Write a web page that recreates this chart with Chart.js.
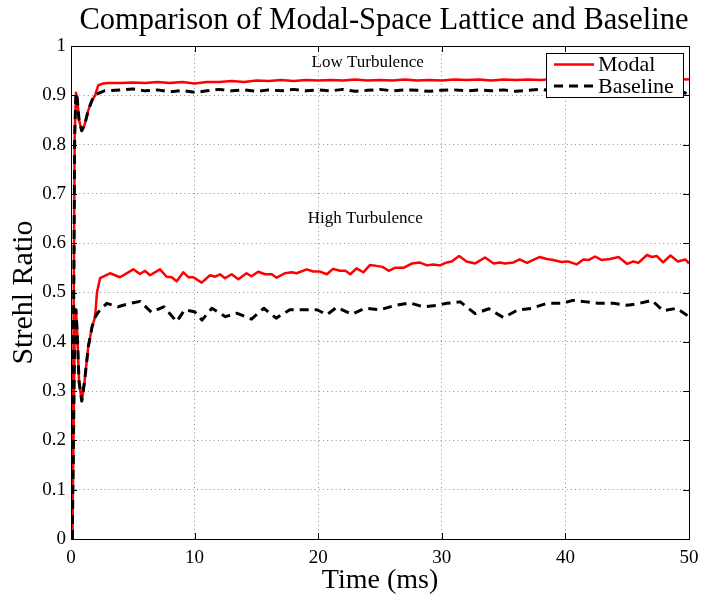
<!DOCTYPE html>
<html><head><meta charset="utf-8">
<script src="https://cdn.jsdelivr.net/npm/chart.js@4.4.1/dist/chart.umd.min.js"></script>
<style>html,body{margin:0;padding:0;background:#fff}#wrap{width:702px;height:600px}</style>
</head><body><div id="wrap"><canvas id="c" width="702" height="600"></canvas></div>
<script>
// ---------- text ----------
const titleText = "Comparison of Modal-Space Lattice and Baseline";
const xTitle = "Time (ms)";
const yTitle = "Strehl Ratio";
const seriesNames = ["Modal", "Baseline"];
const xTickValues = [0, 10, 20, 30, 40, 50];
const yTickValues = [0, 0.1, 0.2, 0.3, 0.4, 0.5, 0.6, 0.7, 0.8, 0.9, 1];
const noteLabels = ["Low Turbulence", "High Turbulence"];
const noteTimes = [24.0, 23.8];
const noteValues = [0.966, 0.650];

// ---------- start-up transient (shared by both methods) ----------
const lowStartT  = [0.1, 0.2, 0.3, 0.4, 0.5, 0.65, 0.87, 1.1, 1.4, 1.7, 1.95];
const lowStartV  = [0.0, 0.40, 0.82, 0.905, 0.895, 0.85, 0.828, 0.84, 0.87, 0.89, 0.90];
const highStartT = [0.1, 0.2, 0.3, 0.4, 0.5, 0.65, 0.87, 1.1, 1.4, 1.7, 1.95];
const highStartV = [0.0, 0.20, 0.42, 0.465, 0.42, 0.32, 0.28, 0.32, 0.39, 0.43, 0.45];

// ---------- low turbulence ----------
const lowModalT = [2.2, 2.6, 3, 4, 5, 6, 7, 8, 9, 10, 11, 12, 13, 14, 15, 16, 17, 18, 19, 20, 21, 22, 23, 24, 25, 26, 27, 28, 29, 30, 31, 32, 33, 34, 35, 36, 37, 38, 39, 40, 41, 42, 43, 44, 45, 46, 47, 48, 49, 50];
const lowModalV = [0.920, 0.924, 0.925, 0.925, 0.926, 0.925, 0.927, 0.925, 0.927, 0.924, 0.927, 0.927, 0.929, 0.927, 0.930, 0.929, 0.931, 0.929, 0.931, 0.930, 0.931, 0.930, 0.932, 0.930, 0.931, 0.930, 0.932, 0.930, 0.931, 0.930, 0.932, 0.931, 0.932, 0.930, 0.932, 0.931, 0.932, 0.931, 0.933, 0.931, 0.933, 0.931, 0.933, 0.932, 0.933, 0.931, 0.933, 0.931, 0.933, 0.932];
const lowBaseT = [2.3, 2.7, 3, 4, 5, 6, 7, 8, 9, 10, 11, 12, 13, 14, 15, 16, 17, 18, 19, 20, 21, 22, 23, 24, 25, 26, 27, 28, 29, 30, 31, 32, 33, 34, 35, 36, 37, 38, 39, 40, 41, 42, 43, 44, 45, 46, 47, 48, 49, 49.6, 50];
const lowBaseV = [0.905, 0.909, 0.909, 0.911, 0.913, 0.909, 0.911, 0.907, 0.910, 0.906, 0.909, 0.912, 0.909, 0.911, 0.908, 0.911, 0.909, 0.912, 0.909, 0.911, 0.909, 0.912, 0.908, 0.910, 0.912, 0.909, 0.911, 0.910, 0.908, 0.910, 0.911, 0.909, 0.911, 0.909, 0.911, 0.908, 0.910, 0.912, 0.909, 0.911, 0.909, 0.910, 0.912, 0.909, 0.911, 0.910, 0.912, 0.909, 0.911, 0.906, 0.900];

// ---------- high turbulence ----------
const highModalT = [2.1, 2.35, 3.16, 3.96, 5.04, 5.58, 5.99, 6.39, 7.2, 7.74, 8.14, 8.55, 9.09, 9.5, 9.9, 10.57, 11.25, 11.65, 12.06, 12.46, 13.0, 13.54, 14.2, 14.6, 15.15, 15.7, 16.24, 16.64, 17.3, 17.86, 18.26, 19.07, 19.6, 20.15, 20.7, 21.2, 21.76, 22.2, 22.6, 23.1, 23.65, 24.2, 24.7, 25.2, 25.7, 26.2, 26.9, 27.6, 28.2, 28.8, 29.3, 29.85, 30.4, 30.8, 31.4, 32.0, 32.7, 33.5, 34.2, 34.7, 35.1, 35.8, 36.3, 36.9, 37.4, 37.9, 38.5, 39.0, 39.7, 40.2, 40.9, 41.45, 41.9, 42.4, 42.9, 43.6, 44.3, 45.0, 45.5, 45.9, 46.6, 47.0, 47.4, 47.9, 48.5, 49.1, 49.7, 50];
const highModalV = [0.50, 0.529, 0.539, 0.531, 0.547, 0.5375, 0.544, 0.535, 0.547, 0.532, 0.531, 0.523, 0.541, 0.531, 0.531, 0.520, 0.535, 0.532, 0.537, 0.529, 0.537, 0.527, 0.539, 0.533, 0.542, 0.537, 0.537, 0.530, 0.539, 0.541, 0.539, 0.547, 0.5425, 0.5425, 0.537, 0.548, 0.544, 0.544, 0.537, 0.549, 0.541, 0.556, 0.554, 0.552, 0.544, 0.550, 0.550, 0.559, 0.561, 0.555, 0.557, 0.555, 0.561, 0.563, 0.574, 0.563, 0.559, 0.571, 0.559, 0.561, 0.559, 0.561, 0.567, 0.560, 0.566, 0.572, 0.568, 0.566, 0.562, 0.563, 0.557, 0.567, 0.566, 0.573, 0.566, 0.568, 0.572, 0.558, 0.563, 0.560, 0.576, 0.572, 0.574, 0.561, 0.575, 0.563, 0.567, 0.559];
const highBaseT = [2.2, 2.5, 2.9, 3.8, 4.8, 5.6, 6.5, 7.5, 8.55, 9.2, 10.0, 10.6, 11.4, 12.5, 13.4, 14.6, 15.6, 16.6, 17.7, 18.9, 19.9, 20.7, 21.5, 22.7, 23.8, 25.0, 26.1, 27.4, 28.5, 29.6, 30.4, 31.5, 32.7, 33.8, 35.0, 36.1, 37.3, 38.5, 39.7, 40.6, 41.7, 42.7, 43.9, 45.0, 46.0, 47.0, 47.9, 49.0, 50];
const highBaseV = [0.46, 0.468, 0.478, 0.471, 0.478, 0.482, 0.460, 0.471, 0.441, 0.465, 0.461, 0.444, 0.468, 0.451, 0.458, 0.446, 0.468, 0.448, 0.465, 0.465, 0.465, 0.455, 0.470, 0.456, 0.468, 0.465, 0.473, 0.479, 0.471, 0.474, 0.478, 0.481, 0.457, 0.467, 0.449, 0.464, 0.468, 0.478, 0.478, 0.484, 0.481, 0.478, 0.478, 0.474, 0.478, 0.484, 0.463, 0.468, 0.451];

// ---------- build ----------
const zip = (ts, vs) => ts.map((t, i) => ({x: t, y: vs[i]}));
const series = (startT, startV, t, v) => zip(startT.concat(t), startV.concat(v));

const RED = '#ff0000', BLACK = '#000000';
const SERIF = '"Liberation Serif", "DejaVu Serif", serif';
Chart.defaults.font.family = SERIF;
Chart.defaults.color = '#000';

const datasets = [
  {label: seriesNames[0], data: series(lowStartT, lowStartV, lowModalT, lowModalV), borderColor: RED, borderWidth: 2.5, order: 2},
  {label: seriesNames[1], data: series(lowStartT, lowStartV, lowBaseT, lowBaseV), borderColor: BLACK, borderWidth: 3, borderDash: [9, 6], order: 1},
  {label: seriesNames[0], data: series(highStartT, highStartV, highModalT, highModalV), borderColor: RED, borderWidth: 2.5, order: 2},
  {label: seriesNames[1], data: series(highStartT, highStartV, highBaseT, highBaseV), borderColor: BLACK, borderWidth: 3, borderDash: [9, 6], order: 1}
].map(d => Object.assign({pointRadius: 0, tension: 0, fill: false, borderJoinStyle: 'round'}, d));

const framePlugin = {
  id: 'frame',
  afterDraw(chart) {
    const {ctx, chartArea: a, scales: {x, y}} = chart;
    ctx.save();
    // title
    ctx.fillStyle = '#000';
    ctx.font = '30.5px ' + SERIF;
    ctx.textAlign = 'center'; ctx.textBaseline = 'alphabetic';
    ctx.fillText(titleText, (a.left + a.right) / 2 + 4, a.top - 17);
    // inner ticks
    ctx.strokeStyle = '#000'; ctx.lineWidth = 1;
    const L = 6;
    ctx.beginPath();
    xTickValues.forEach(v => {
      const px = Math.round(x.getPixelForValue(v)) + 0.5;
      ctx.moveTo(px, a.bottom); ctx.lineTo(px, a.bottom - L);
      ctx.moveTo(px, a.top); ctx.lineTo(px, a.top + L);
    });
    yTickValues.forEach(v => {
      const py = Math.round(y.getPixelForValue(v)) + 0.5;
      ctx.moveTo(a.left, py); ctx.lineTo(a.left + L, py);
      ctx.moveTo(a.right, py); ctx.lineTo(a.right - L, py);
    });
    ctx.stroke();
    // box
    ctx.strokeRect(Math.round(a.left) + 0.5, Math.round(a.top) + 0.5, Math.round(a.right - a.left), Math.round(a.bottom - a.top));
    // notes
    ctx.fillStyle = '#000';
    ctx.font = '17px ' + SERIF;
    ctx.textAlign = 'center'; ctx.textBaseline = 'middle';
    noteLabels.forEach((s, i) => ctx.fillText(s, x.getPixelForValue(noteTimes[i]), y.getPixelForValue(noteValues[i])));
    // legend
    const bx = Math.round(a.right) - 143, by = Math.round(a.top) + 7, bw = 137, bh = 44;
    ctx.fillStyle = '#fff';
    ctx.fillRect(bx, by, bw, bh);
    ctx.strokeStyle = '#000'; ctx.lineWidth = 1;
    ctx.strokeRect(bx + 0.5, by + 0.5, bw, bh);
    const styles = [datasets[0], datasets[1]];
    styles.forEach((d, i) => {
      const ly = by + 11.5 + i * 21.5;
      ctx.save();
      ctx.strokeStyle = d.borderColor; ctx.lineWidth = d.borderWidth;
      ctx.setLineDash(d.borderDash || []);
      ctx.beginPath(); ctx.moveTo(bx + 8, ly); ctx.lineTo(bx + 48, ly); ctx.stroke();
      ctx.restore();
      ctx.fillStyle = '#000';
      ctx.font = '22px ' + SERIF;
      ctx.textAlign = 'left'; ctx.textBaseline = 'middle';
      ctx.fillText(d.label, bx + 52, ly + 1);
    });
    ctx.restore();
  }
};

new Chart(document.getElementById('c'), {
  type: 'line',
  data: {datasets},
  options: {
    responsive: false, animation: false, devicePixelRatio: 1,
    layout: {padding: {top: 46, right: 13, left: 0, bottom: 0}},
    plugins: {legend: {display: false}, tooltip: {enabled: false}, title: {display: false}},
    scales: {
      x: {
        type: 'linear', min: 0, max: 50,
        afterBuildTicks: s => { s.ticks = xTickValues.map(v => ({value: v})); },
        ticks: {font: {size: 19}, color: '#000', padding: 8, maxRotation: 0},
        grid: {color: '#8a8a8a', lineWidth: 1, drawTicks: false},
        border: {display: false, dash: [1, 3.2]},
        title: {display: true, text: xTitle, font: {size: 28}, color: '#000', padding: {top: 0, bottom: 3}},
        afterFit: s => { s.height = 61; s.paddingLeft = 0; s.paddingRight = 0; }
      },
      y: {
        type: 'linear', min: 0, max: 1,
        afterBuildTicks: s => { s.ticks = yTickValues.map(v => ({value: v})); },
        ticks: {font: {size: 19}, color: '#000', padding: 5, callback: v => String(Math.round(v * 10) / 10)},
        grid: {color: '#8a8a8a', lineWidth: 1, drawTicks: false},
        border: {display: false, dash: [1, 3.2]},
        title: {display: true, text: yTitle, font: {size: 30}, color: '#000', padding: {top: 6, bottom: 0}},
        afterFit: s => { s.width = 71; s.paddingTop = 0; s.paddingBottom = 0; }
      }
    }
  },
  plugins: [framePlugin]
});
</script>
</body></html>
